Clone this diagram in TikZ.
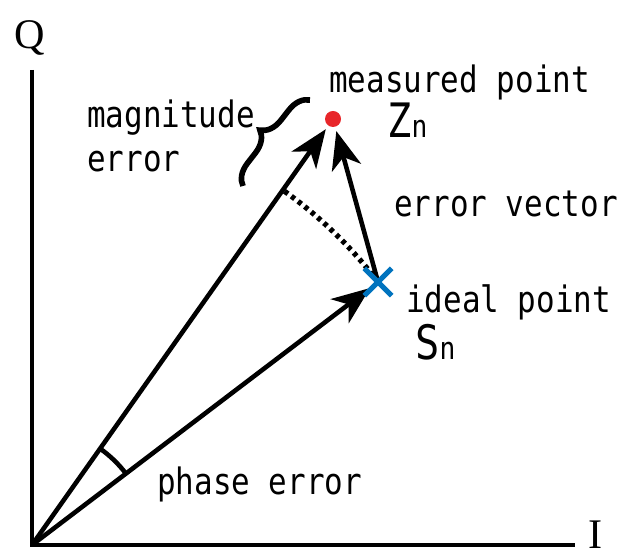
\documentclass[tikz,border=0pt]{standalone}
\usepackage{fontspec}
\setmainfont{Liberation Serif}
\newfontfamily\lblfont[FakeStretch=0.85]{DejaVu Sans Mono}
\usepackage{tikz}
\usetikzlibrary{arrows.meta, decorations.pathreplacing, shapes.misc}
\definecolor{dotred}{RGB}{232,38,42}
\definecolor{crossblue}{RGB}{0,115,190}

\begin{document}
\begin{tikzpicture}[>={Stealth[length=0.76cm, width=0.6cm, inset=0.22cm]}, line width=2.6pt,
    lbl/.style={font=\lblfont\fontsize{20.7}{25}\selectfont, inner sep=0pt, anchor=base west},
    vec/.style={->, line width=2.6pt}]
    \useasboundingbox (-0.64,-0.22) rectangle (11.78,10.90);
    \coordinate (O) at (0,0);
    \coordinate (S) at (6.92,5.26);
    \coordinate (Z) at (6.02,8.52);
    \coordinate (qtop) at (0,9.5);
    \coordinate (iend) at (10.86,0);
    \coordinate (brlo) at (4.22,7.18);
    \coordinate (brhi) at (5.56,8.90);
    % axes
    \node[font=\fontsize{24}{24}\selectfont, inner sep=0pt] (Q) at (-0.04,10.14) {Q};
    \node[font=\fontsize{24}{24}\selectfont, inner sep=0pt, anchor=base] (I) at (11.28,-0.06) {I};
    \draw (qtop) -- (O) -- (iend);
    % vectors
    \draw[vec, shorten >=0.25cm] (O) -- (Z);
    \draw[vec, shorten >=0.2cm] (O) -- (S);
    \draw[vec, shorten >=0.25cm] (S) -- (Z);
    \draw[line width=3pt, dash pattern=on 2.4pt off 2.4pt] (S) arc[start angle=37.24, end angle=54.7, radius=8.692];
    \draw (37.24:2.36) arc[start angle=37.24, end angle=54.7, radius=2.36];
    \draw[line width=3.2pt, decorate, decoration={brace, amplitude=0.42cm}] (brlo) -- (brhi);
    % points
    \node[cross out, draw=crossblue, line width=3pt, minimum size=0.44cm, inner sep=0pt] (ideal) at (S) {};
    \node[circle, fill=dotred, minimum size=0.32cm, inner sep=0pt] (meas) at (Z) {};
    % labels
    \node[lbl] (measlbl) at (5.90,9.04) {measured point};
    \node[lbl] (zlbl) at (7.06,8.14) {{\fontsize{27}{27}\selectfont Z}{\fontsize{17.6}{20}\selectfont n}};
    \node[lbl] (maglbl) at (1.06,8.34) {magnitude};
    \node[lbl] (errlbl) at (1.06,7.46) {error};
    \node[lbl] (veclbl) at (7.2,6.56) {error vector};
    \node[lbl] (idlbl) at (7.44,4.64) {ideal point};
    \node[lbl] (slbl) at (7.62,3.70) {{\fontsize{27}{27}\selectfont S}{\fontsize{17.6}{20}\selectfont n}};
    \node[lbl] (phlbl) at (2.46,1.0) {phase error};
\end{tikzpicture}
\end{document}
